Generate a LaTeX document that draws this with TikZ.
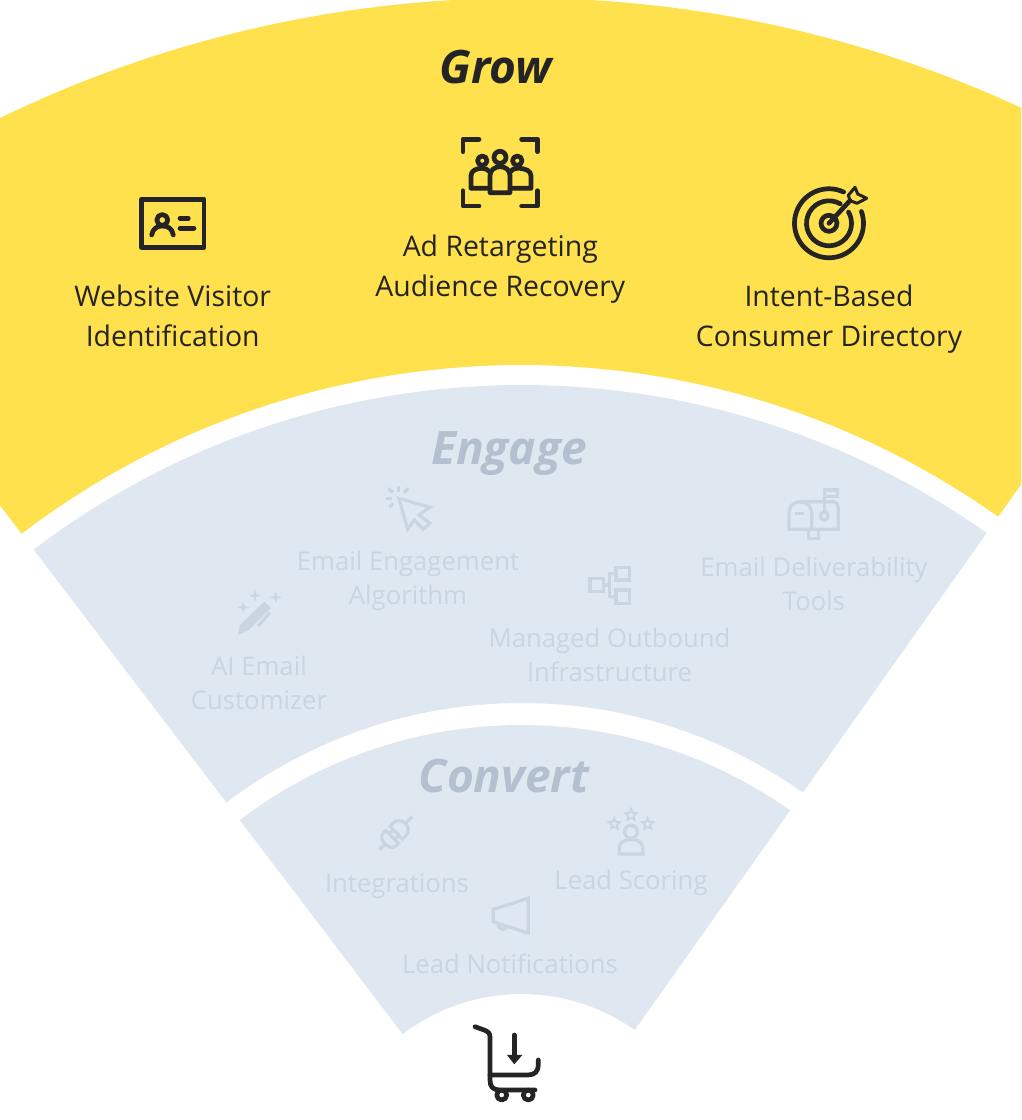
\documentclass[tikz,border=0pt]{standalone}
\usepackage{fontspec}
\setmainfont{Open Sans}
\usetikzlibrary{calc,positioning}
\definecolor{growfill}{HTML}{FFE04D}
\definecolor{softfill}{HTML}{DFE7F0}
\definecolor{softtitle}{HTML}{B4C0D0}
\definecolor{softink}{HTML}{CAD5E1}
\definecolor{inkdark}{HTML}{242424}
\newcommand{\bandfill}[3]{\fill[#1] ($(hub)+(127.3:#2)$) arc[start angle=127.3,end angle=54.7,radius=#2] -- ($(hub)+(54.7:#3)$) arc[start angle=54.7,end angle=127.3,radius=#3] -- cycle;}
\newcommand{\starmark}[3]{\draw[shift={(#1,#2)},line width=1.8pt] plot[samples at={0,...,9}] ({270+\x*36}:{mod(\x,2)==0?#3:#3*0.45}) -- cycle;}
\newcommand{\sparkmark}[3]{\fill[shift={(#1,#2)}] (0,-#3) -- (.22*#3,-.22*#3) -- (#3,0) -- (.22*#3,.22*#3) -- (0,#3) -- (-.22*#3,.22*#3) -- (-#3,0) -- (-.22*#3,-.22*#3) -- cycle;}
\tikzset{
	cardicon/.pic={
		\draw (-31.3,-24) rectangle (31.3,24);
		\draw (-10.4,-3.3) circle (5.5);
		\draw (-21,11.7) .. controls (-20,5) and (-15,2.7) .. (-10.4,2.7) .. controls (-5,2.7) and (-.5,5) .. (.6,11.7);
		\draw (7.3,-5) -- (15.6,-5);
		\draw (7.3,5) -- (21.3,5);
	},
	crowdicon/.pic={
		\draw (-37.3,-21) -- (-37.3,-33.4) -- (-21.3,-33.4);
		\draw (21.3,-33.4) -- (37.3,-33.4) -- (37.3,-21);
		\draw (-37.3,18) -- (-37.3,33.3) -- (-21.3,33.3);
		\draw (21.3,33.3) -- (37.3,33.3) -- (37.3,18);
		\draw (-.3,-15.4) circle (6);
		\draw (-18,-12) circle (4.7);
		\draw (17,-12) circle (4.7);
		\draw (-10.3,20) -- (-10.3,3) .. controls (-10.3,-3) and (-5,-6) .. (-.3,-6) .. controls (5,-6) and (9.7,-3) .. (9.7,3) -- (9.7,20) -- cycle;
		\draw (-10.3,15.6) -- (-29.3,15.6) -- (-29.3,3) .. controls (-29.3,-2) and (-24,-4.4) .. (-18,-4.4) .. controls (-15,-4.4) and (-12,-3) .. (-10.3,-.5);
		\draw (9.7,15.6) -- (30.7,15.6) -- (30.7,3) .. controls (30.7,-2) and (25,-4.4) .. (17,-4.4) .. controls (14,-4.4) and (11,-3) .. (9.7,-.5);
	},
	targeticon/.pic={
		\draw (-65:34.5) arc[start angle=-65,end angle=-380,radius=34.5];
		\draw (-60:22.5) arc[start angle=-60,end angle=-390,radius=22.5];
		\draw (-65:8) arc[start angle=-65,end angle=-390,radius=8];
		\draw (0,0) -- (21,-22.7);
		\draw[line width=3pt] (19.3,-28) -- (26,-36) -- (28.7,-29.3) -- (37.7,-25) -- (28,-20) -- (21,-22.7) -- cycle;
	},
	penicon/.pic={
		\sparkmark{-4}{-12.3}{6}
		\sparkmark{16.7}{-10.7}{6}
		\sparkmark{-15.7}{-.7}{6}
		\fill (-21.3,27) -- (-19,17) -- (5.3,-6.3) -- (12,0) -- (-10,22) -- cycle;
		\draw (11,4.3) -- (-.7,18);
	},
	cursoricon/.pic={
		\draw (-9.2,-11.7) -- (22,-2.7) -- (10.8,5) -- (22,13.3) -- (15.3,19.3) -- (6.4,10) -- (-.3,19.3) -- cycle;
		\draw (-9.7,-24.3) -- (-9.7,-18.3);
		\draw (.3,-21.7) -- (-4,-17.3);
		\draw (-19.7,-21.7) -- (-15.3,-17.3);
		\draw (-22,-11.7) -- (-16.3,-11.7);
		\draw (-18.7,-2.7) -- (-14.7,-6.7);
	},
	treeicon/.pic={
		\draw (-19.5,-6.7) rectangle (-6.2,6.7);
		\draw (6.5,-17.7) rectangle (19.8,-5);
		\draw (6.5,5) rectangle (19.8,18.3);
		\draw (-6.2,0) -- (-.2,0);
		\draw (6.5,-11.7) -- (-.2,-11.7) -- (-.2,11.7) -- (6.5,11.7);
	},
	mailicon/.pic={
		\draw (-25,15.3) -- (-25,-.7) .. controls (-25,-8) and (-20,-12.3) .. (-14,-12.3) -- (19,-12.3) .. controls (22.5,-12.3) and (24.3,-9) .. (24.3,-6) -- (24.3,15.3) -- cycle;
		\draw (-14,-12.3) .. controls (-8,-12.3) and (-2.3,-8) .. (-2.3,-.7) -- (-2.3,15.3);
		\draw (-19,-.7) -- (-10,-.7);
		\draw (10.3,-2) -- (10.3,-24) -- (23.7,-24) -- (23.7,-17.3) -- (10.3,-17.3);
		\draw (10.3,2) circle (4);
		\draw (-5.7,15.3) -- (-5.7,24.3) -- (4.3,24.3) -- (4.3,15.3);
	},
	plugicon/.pic={
		\begin{scope}[rotate=-45]
			\draw (-1,-9) -- (-1,9) -- (4,9) .. controls (9,9) and (12,4) .. (12,0) .. controls (12,-4) and (9,-9) .. (4,-9) -- cycle;
			\draw (12,0) -- (22,0);
			\draw (-7,-9) -- (-7,9) -- (-11,9) .. controls (-15,9) and (-17,4) .. (-17,0) .. controls (-17,-4) and (-15,-9) .. (-11,-9) -- cycle;
			\draw (-17,0) -- (-25,0);
			\draw (-7,-4) -- (-1,-4);
			\draw (-7,4) -- (-1,4);
		\end{scope}
	},
	rateicon/.pic={
		\draw (0,-.3) circle (6.5);
		\draw (-11.7,22) -- (-11.7,15) .. controls (-11.7,10) and (-6,7.5) .. (0,7.5) .. controls (6,7.5) and (11.7,10) .. (11.7,15) -- (11.7,22) -- cycle;
		\starmark{-16.7}{-8}{6}
		\starmark{0}{-17}{6}
		\starmark{16.7}{-8}{6}
	},
	hornicon/.pic={
		\draw (18.3,-17.7) -- (18.3,17.3) -- (-16.7,5.7) -- (-16.7,-6.7) -- cycle;
		\draw (-12,7) .. controls (-12,15) and (-3,15) .. (-3,9.5);
	},
	carticon/.pic={
		\draw (-33,-35.3) -- (-24,-32) .. controls (-20,-30.5) and (-18,-29) .. (-18,-25) -- (-18,18) .. controls (-18,25) and (-15,28) .. (-8,28) -- (27,28);
		\draw (-18,13) -- (20,13) .. controls (27,13) and (30.3,9) .. (30.3,3) -- (30.3,-2);
		\draw (-6.3,33) circle (5);
		\draw (20.3,33) circle (5);
		\draw (6.3,-27) -- (6.3,-3);
		\fill (-1,-7) -- (6.3,2.3) -- (14.3,-7) -- cycle;
	}
}
\begin{document}
\begin{tikzpicture}[x=1pt,y=1pt,
	inkicon/.style={yscale=-1,color=inkdark,line width=4.7pt,line join=round,line cap=round},
	softicon/.style={yscale=-1,color=softink,line width=3.2pt,line join=miter},
	bigtext/.style={inner sep=0pt,align=center,text=inkdark,font=\fontsize{28.4}{40}\selectfont},
	softtext/.style={inner sep=0pt,align=center,text=softink,font=\fontsize{25.7}{34}\selectfont},
	bandtitle/.style={inner sep=0pt,font=\fontsize{46}{50}\selectfont\bfseries\itshape}]
	\useasboundingbox (0,0) rectangle (1021,1120);
	\clip (0,0) rectangle (1021,1120);
	\coordinate (hub) at (521.5,-70);
	\bandfill{growfill}{825}{1192}
	\bandfill{softfill}{487}{805}
	\bandfill{softfill}{196}{465}

	\node[bandtitle,text=inkdark] (grow) at (496,1053) {Grow};
	\node[bandtitle,text=softtitle] (engage) at (509,666) {Engage};
	\node[bandtitle,text=softtitle] (convert) at (504,344) {Convert};

	\coordinate (card) at (172.7,896.7);
	\coordinate (crowd) at (500.3,947.3);
	\coordinate (target) at (829,896.7);
	\pic[inkicon] at (card) {cardicon};
	\pic[inkicon] at (crowd) {crowdicon};
	\pic[inkicon] at (target) {targeticon};
	\node[bigtext] (visitor) [below=61pt of card] {Website Visitor\\Identification};
	\node[bigtext] (retarget) [below=62.3pt of crowd] {Ad Retargeting\\Audience Recovery};
	\node[bigtext] (intent) [below=61pt of target] {Intent-Based\\Consumer Directory};

	\coordinate (pen) at (259,512);
	\coordinate (cursor) at (408,610);
	\coordinate (tree) at (609.5,535);
	\coordinate (mail) at (814,606);
	\pic[softicon] at (pen) {penicon};
	\pic[softicon] at (cursor) {cursoricon};
	\pic[softicon] at (tree) {treeicon};
	\pic[softicon] at (mail) {mailicon};
	\node[softtext] (customizer) [below=48pt of pen] {AI Email\\Customizer};
	\node[softtext] (algorithm) [below=41pt of cursor] {Email Engagement\\Algorithm};
	\node[softtext] (outbound) [below=43pt of tree] {Managed Outbound\\Infrastructure};
	\node[softtext] (deliver) [below=43pt of mail] {Email Deliverability\\Tools};

	\coordinate (plug) at (397,288);
	\coordinate (rate) at (631,288);
	\coordinate (horn) at (510,204);
	\pic[softicon] at (plug) {plugicon};
	\pic[softicon] at (rate) {rateicon};
	\pic[softicon] at (horn) {hornicon};
	\node[softtext] (integrations) [below=41pt of plug] {Integrations};
	\node[softtext] (scoring) [below=38pt of rate] {Lead Scoring};
	\node[softtext] (notify) [below=38pt of horn] {Lead Notifications};

	\coordinate (cart) at (508,58);
	\pic[inkicon] at (cart) {carticon};
\end{tikzpicture}
\end{document}
